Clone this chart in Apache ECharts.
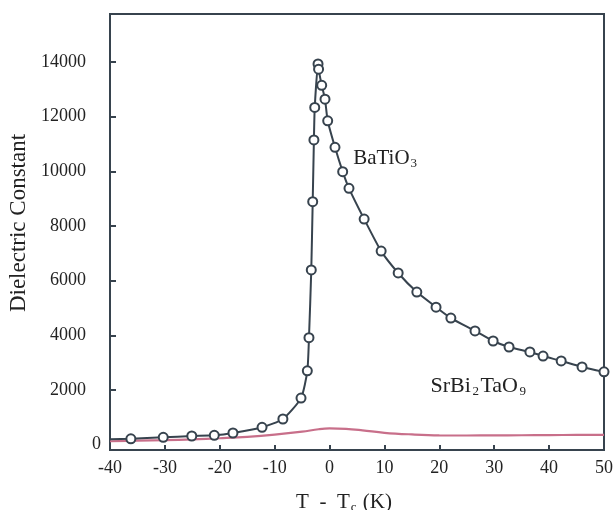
<!DOCTYPE html>
<html>
<head>
<meta charset="utf-8">
<script src="https://cdn.jsdelivr.net/npm/echarts@6/dist/echarts.min.js"></script>
<style>
  html, body { margin: 0; padding: 0; background: #fff; }
  #chart { width: 613px; height: 510px; }
</style>
</head>
<body>
<div id="chart"></div>
<script>
// BaTiO3: measured dielectric constant vs. T - Tc (open-circle markers)
const batioX = [-40, -36.2, -30.3, -25.1, -21.0, -17.6, -12.3, -8.5, -5.2, -4.05, -3.75, -3.33, -3.07,
  -2.85, -2.7, -2.1, -2.0, -1.43, -0.83, -0.34, 0.99, 2.39, 3.54, 6.3, 9.4, 12.5, 15.9, 19.4, 22.1,
  26.5, 29.8, 32.7, 36.5, 38.9, 42.2, 46.0, 50.0];
const batioY = [190, 210, 265, 312, 338, 422, 631, 935, 1700, 2700, 3910, 6390, 8890,
  11150, 12340, 13930, 13740, 13150, 12640, 11850, 10880, 9990, 9380, 8255, 7080, 6280, 5580, 5030, 4630,
  4160, 3790, 3570, 3390, 3240, 3060, 2840, 2660];

// SrBi2TaO9: continuous curve
const sbtX = [-40, -35, -30, -25, -20, -15, -10, -5, -2, 0, 3, 6, 10, 15, 20, 25, 30, 35, 40, 45, 50];
const sbtY = [120, 140, 160, 190, 230, 280, 360, 470, 560, 590, 575, 520, 430, 370, 335, 330, 335, 340, 345, 350, 350];

// Axis ticks
const xTicks = [-40, -30, -20, -10, 0, 10, 20, 30, 40, 50];
const yLabelValues = [2000, 4000, 6000, 8000, 10000, 12000, 14000];
const yZeroLabel = [0];

// Annotation anchors (data coordinates)
const batioLabelAt = [4.3, 10480];
const sbtLabelAt = [18.4, 2140];

const ink = '#37434e';
const pink = '#c86f8a';
const serif = '"Liberation Serif", "DejaVu Serif", serif';

const chart = echarts.init(document.getElementById('chart'), null, { renderer: 'canvas' });

const batioData = batioX.map((x, i) => i === 0
  ? { value: [x, batioY[i]], symbol: 'none' }
  : [x, batioY[i]]);
const sbtData = sbtX.map((x, i) => [x, sbtY[i]]);

const makeRich = (size, subSize, gap) => ({
  n: { fontFamily: serif, fontSize: size, color: '#222', lineHeight: 24, verticalAlign: 'middle' },
  s: { fontFamily: serif, fontSize: subSize, color: '#222', lineHeight: 10, verticalAlign: 'bottom',
       padding: [0, gap, 0, gap] }
});

const plain = v => String(v);

const yCommon = {
  type: 'value',
  min: -200,
  max: 15760,
  splitLine: { show: false }
};

chart.setOption({
  backgroundColor: '#fff',
  animation: false,
  grid: {
    left: 110, right: 9, top: 14, bottom: 60,
    outerBoundsMode: 'none',
    show: true, borderColor: ink, borderWidth: 2, backgroundColor: 'transparent'
  },
  xAxis: {
    type: 'value',
    min: xTicks[0],
    max: xTicks[xTicks.length - 1],
    interval: 10,
    name: '{n|T  -  T}{s|c}{n| (K)}',
    nameLocation: 'middle',
    nameGap: 40,
    nameTextStyle: { rich: makeRich(21, 13, 1), padding: [0, 26, 0, 0] },
    axisLine: { onZero: false, lineStyle: { color: ink, width: 2 } },
    axisTick: { inside: true, length: 5, lineStyle: { color: ink, width: 2 } },
    axisLabel: { fontFamily: serif, fontSize: 18, color: '#222', margin: 9, formatter: plain },
    splitLine: { show: false }
  },
  yAxis: [
    Object.assign({}, yCommon, {
      name: 'Dielectric Constant',
      nameLocation: 'middle',
      nameGap: 75,
      nameTextStyle: { fontFamily: serif, fontSize: 23, color: '#222', padding: [0, 0, 0, 18] },
      axisLine: { show: true, onZero: false, lineStyle: { color: ink, width: 2 } },
      axisTick: { show: true, inside: true, length: 6, lineStyle: { color: ink, width: 2 },
        customValues: yLabelValues },
      axisLabel: { fontFamily: serif, fontSize: 18, color: '#222', margin: 24, formatter: plain,
        customValues: yLabelValues }
    }),
    Object.assign({}, yCommon, {
      position: 'left',
      axisLine: { show: false, onZero: false },
      axisTick: { show: false },
      axisLabel: { fontFamily: serif, fontSize: 18, color: '#222', margin: 9, formatter: plain,
        customValues: yZeroLabel }
    })
  ],
  series: [
    {
      name: 'SrBi2TaO9',
      type: 'line',
      data: sbtData,
      smooth: 0.4,
      symbol: 'none',
      lineStyle: { color: pink, width: 2.2 },
      z: 2,
      markPoint: {
        symbol: 'circle', symbolSize: 0,
        label: {
          show: true, position: 'right', distance: 0,
          formatter: '{n|SrBi}{s|2}{n|TaO}{s|9}',
          rich: makeRich(22, 13, 1.5)
        },
        data: [{ coord: sbtLabelAt }]
      }
    },
    {
      name: 'BaTiO3',
      type: 'line',
      data: batioData,
      smooth: 0.2,
      symbol: 'circle',
      symbolSize: 9,
      itemStyle: { color: '#fff', borderColor: ink, borderWidth: 2 },
      lineStyle: { color: ink, width: 2 },
      z: 3,
      markPoint: {
        symbol: 'circle', symbolSize: 0,
        label: {
          show: true, position: 'right', distance: 0,
          formatter: '{n|BaTiO}{s|3}',
          rich: makeRich(21, 13, 1)
        },
        data: [{ coord: batioLabelAt }]
      }
    }
  ]
});
</script>
</body>
</html>
